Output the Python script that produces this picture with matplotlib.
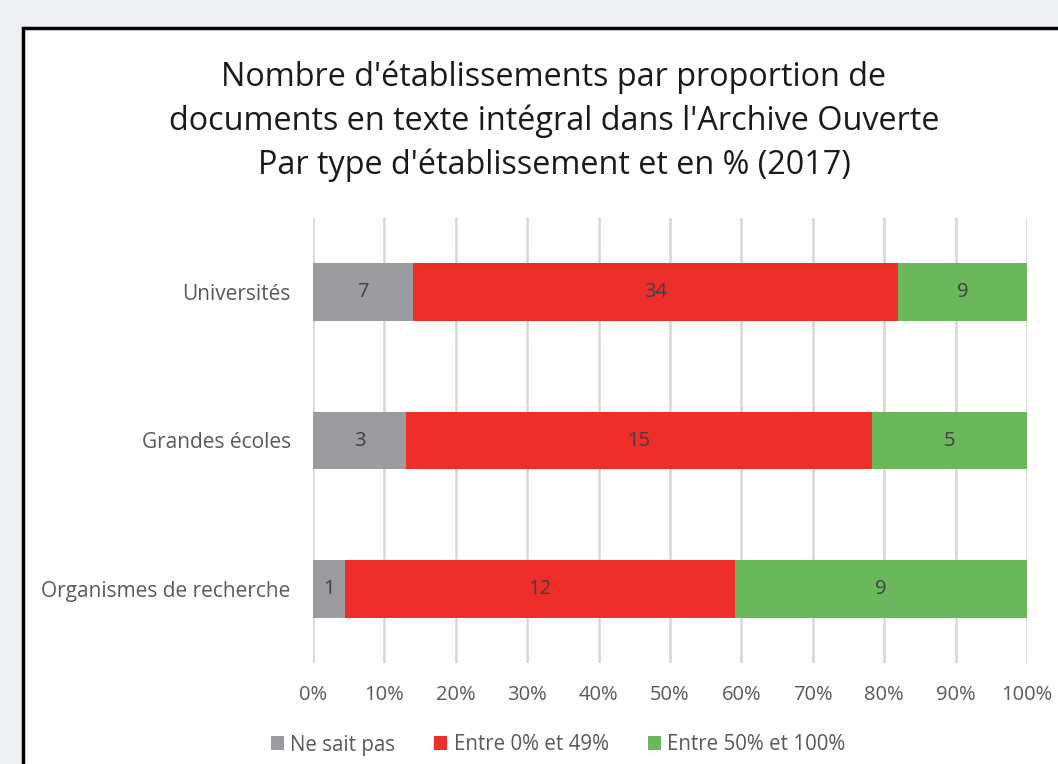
import matplotlib.pyplot as plt
from matplotlib.patches import Rectangle
import numpy as np

categories = ["Universités", "Grandes écoles", "Organismes de recherche"]
series_names = ["Ne sait pas", "Entre 0% et 49%", "Entre 50% et 100%"]
ne_sait_pas = [7, 3, 1]
entre_0_49 = [34, 15, 12]
entre_50_100 = [9, 5, 9]
colors = ["#9b9ca0", "#ee2e2a", "#6ab75c"]
xticks = [0, 10, 20, 30, 40, 50, 60, 70, 80, 90, 100]

plt.rcParams['font.family'] = ['Open Sans', 'DejaVu Sans']

fig = plt.figure(figsize=(10.58, 7.64), dpi=100)
fig.patch.set_facecolor('#eef2f5')
W, H = 1058, 764
# chart frame
fig.patches.append(Rectangle((23 / W, -0.05), 1.1, 1 - 28 / H + 0.05, transform=fig.transFigure,
                             facecolor='white', edgecolor='black', linewidth=2.5, zorder=-1))

ax = fig.add_axes([313 / W, 1 - 663 / H, (1027 - 313) / W, (663 - 218) / H])
ax.set_zorder(2)
ax.set_facecolor('none')

data = np.array([ne_sait_pas, entre_0_49, entre_50_100], dtype=float)
totals = data.sum(axis=0)
pct = data / totals * 100
y = np.arange(len(categories))
left = np.zeros(len(categories))
for i, name in enumerate(series_names):
    bars = ax.barh(y, pct[i], left=left, height=0.39, color=colors[i], label=name, zorder=3)
    for j, b in enumerate(bars):
        ax.text(left[j] + pct[i][j] / 2, y[j], f"{int(data[i][j])}", ha='center', va='center',
                fontsize=14.5, color='#404040', zorder=4)
    left += pct[i]

ax.set_xlim(0, 100)
ax.set_ylim(2.5, -0.5)
ax.set_xticks(xticks)
ax.set_xticklabels([f"{v}%" for v in xticks], fontsize=14.5, color='#595959')
ax.set_yticks(y)
ax.set_yticklabels(categories, fontsize=15, color='#595959')
ax.tick_params(axis='both', length=0)
ax.tick_params(axis='x', pad=16)
ax.tick_params(axis='y', pad=16)
ax.grid(axis='x', color='#d9d9d9', linewidth=2, zorder=0)
for s in ax.spines.values():
    s.set_visible(False)

fig.text(554 / W, 1 - 121 / H,
         "Nombre d'établissements par proportion de\ndocuments en texte intégral dans l'Archive Ouverte\nPar type d'établissement et en % (2017)",
         ha='center', va='center', fontsize=23.3, color='#1a1a1a', linespacing=1.42)

leg = fig.legend(loc='center', bbox_to_anchor=(558 / W, 1 - 745 / H), ncol=3, frameon=False,
                 fontsize=14.8, handlelength=0.65, handleheight=0.65, handletextpad=0.3, columnspacing=1.9)
for t in leg.get_texts():
    t.set_color('#595959')

fig.savefig('out.png', dpi=100, facecolor=fig.get_facecolor())
